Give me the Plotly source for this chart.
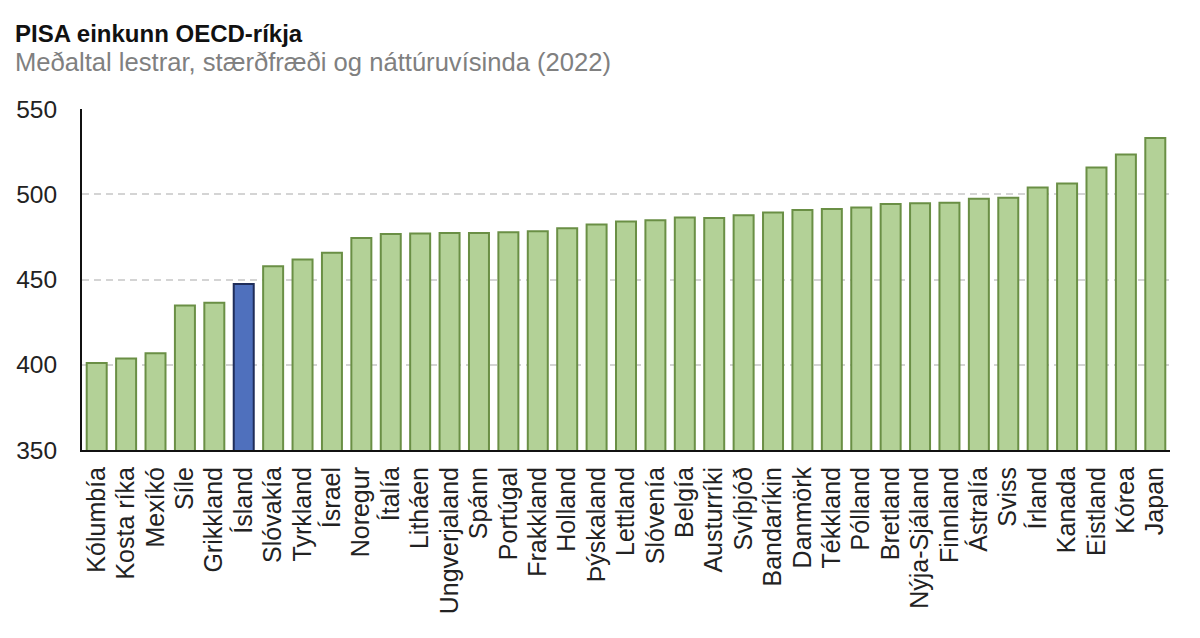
import plotly.graph_objects as go

countries = ["Kólumbía", "Kosta ríka", "Mexíkó", "Síle", "Grikkland", "Ísland",
             "Slóvakía", "Tyrkland", "Ísrael", "Noregur", "Ítalía", "Litháen",
             "Ungverjaland", "Spánn", "Portúgal", "Frakkland", "Holland", "Þýskaland",
             "Lettland", "Slóvenía", "Belgía", "Austurríki", "Svíþjóð", "Bandaríkin",
             "Danmörk", "Tékkland", "Pólland", "Bretland", "Nýja-Sjáland", "Finnland",
             "Ástralía", "Sviss", "Írland", "Kanada", "Eistland", "Kórea", "Japan"]
scores = [401.0, 403.7, 406.7, 434.7, 436.3, 447.3,
          457.7, 461.7, 465.7, 474.3, 476.7, 477.0,
          477.3, 477.3, 477.7, 478.3, 480.0, 482.3,
          484.0, 484.7, 486.3, 486.0, 487.7, 489.3,
          490.7, 491.3, 492.3, 494.3, 494.7, 495.0,
          497.3, 498.0, 504.0, 506.3, 515.7, 523.3, 533.0]
highlight = "Ísland"

fill = ["#4f70bd" if c == highlight else "#b3d197" for c in countries]
edge = ["#1f2d5a" if c == highlight else "#6a8f45" for c in countries]

fig = go.Figure(go.Bar(
    x=countries, y=scores,
    marker=dict(color=fill, line=dict(color=edge, width=2)),
))

# page body has an 8px margin, so margins are offset to land the plot area
fig.update_layout(
    width=1200, height=638,
    margin=dict(l=74, r=38, t=101, b=196),
    plot_bgcolor="white", paper_bgcolor="white",
    font=dict(family="Liberation Sans, Arial, sans-serif", color="#222"),
    bargap=0.32,
    showlegend=False,
)
fig.update_yaxes(
    range=[350, 550], dtick=50, tickfont=dict(size=24.5, color="#222"),
    showgrid=True, gridcolor="#d4d4d4", griddash="7px,5px", gridwidth=1.5,
    showline=True, linecolor="#111", linewidth=2, zeroline=False,
    ticks="", ticklabelstandoff=18, automargin=False,
)
fig.update_xaxes(
    tickmode="array", tickvals=countries, ticktext=countries,
    tickangle=-90, tickfont=dict(size=25, color="#222"),
    showline=True, linecolor="#111", linewidth=2, ticks="",
    ticklabelstandoff=5, automargin=False,
)

fig.add_annotation(text="<b>PISA einkunn OECD-ríkja</b>", xref="paper", yref="paper",
                   x=-0.0635, y=1.221, xanchor="left", yanchor="middle",
                   showarrow=False, font=dict(size=24, color="#111"))
fig.add_annotation(text="Meðaltal lestrar, stærðfræði og náttúruvísinda (2022)",
                   xref="paper", yref="paper", x=-0.0635, y=1.138,
                   xanchor="left", yanchor="middle", showarrow=False,
                   font=dict(size=25.6, color="#808080"))

fig.write_html("out.html")
